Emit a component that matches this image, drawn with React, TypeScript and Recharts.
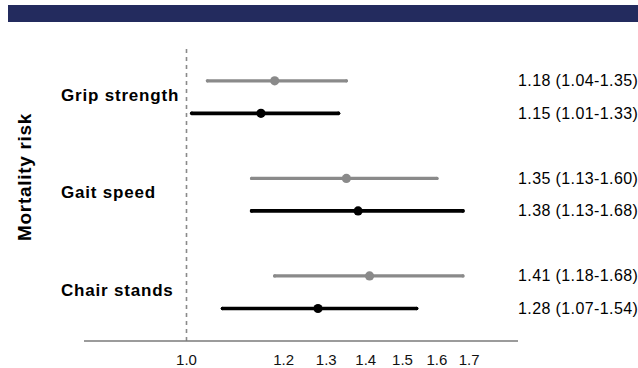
import { ScatterChart, Scatter, XAxis, YAxis, ErrorBar, ReferenceLine, Label } from "recharts";

// Hazard ratios (95% CI) per physical-performance measure
const measures = ["Grip strength", "Gait speed", "Chair stands"];
const grayHR = [1.18, 1.35, 1.41];
const grayLow = [1.04, 1.13, 1.18];
const grayHigh = [1.35, 1.6, 1.68];
const blackHR = [1.15, 1.38, 1.28];
const blackLow = [1.01, 1.13, 1.07];
const blackHigh = [1.33, 1.68, 1.54];
const xTicks = [1.0, 1.2, 1.3, 1.4, 1.5, 1.6, 1.7];

const GRAY = "#8a8a8a";
const BLACK = "#000000";
const NAVY = "#232b5e";
const FONT = "'Liberation Sans', Arial, Helvetica, sans-serif";

// two rows per measure (gray above, black below), one empty row between groups
const buildRows = (hr: number[], low: number[], high: number[], offset: number) =>
  hr.map((v, i) => ({
    x: v,
    y: i * 3 + offset,
    err: [v - low[i], high[i] - v],
    label: `${v.toFixed(2)} (${low[i].toFixed(2)}-${high[i].toFixed(2)})`,
  }));

const grayRows = buildRows(grayHR, grayLow, grayHigh, 0);
const blackRows = buildRows(blackHR, blackLow, blackHigh, 1);
const allRows = [...grayRows, ...blackRows];
const rowTicks = allRows.map((r) => r.y).sort((a, b) => a - b);
const groupTicks = measures.map((_, i) => i * 3 + 0.5);

const dot = (color: string) => (p: any) => <circle cx={p.cx} cy={p.cy} r={4.6} fill={color} />;

const CategoryTick = ({ x, y, payload }: any) => (
  <text x={x - 23} y={y - 2} textAnchor="start" dominantBaseline="central"
    fontFamily={FONT} fontSize={17} fontWeight="bold" letterSpacing={0.8} fill="#000">
    {measures[Math.floor(payload.value / 3)]}
  </text>
);

const EstimateTick = ({ x, y, payload }: any) => {
  const row = allRows.find((r) => r.y === payload.value);
  return (
    <text x={x} y={y} textAnchor="start" dominantBaseline="central"
      fontFamily={FONT} fontSize={16} letterSpacing={0.4} fill="#000">
      {row ? row.label : ""}
    </text>
  );
};

const ValueTick = ({ x, y, payload }: any) => (
  <text x={x} y={y} textAnchor="middle" dominantBaseline="central"
    fontFamily={FONT} fontSize={15} fill="#111">
    {payload.value.toFixed(1)}
  </text>
);

const MortalityLabel = ({ viewBox }: any) => {
  const cx = viewBox.x;
  const cy = viewBox.y + viewBox.height / 2 - 17;
  return (
    <text x={cx} y={cy} transform={`rotate(-90, ${cx}, ${cy})`} textAnchor="middle" dominantBaseline="central"
      fontFamily={FONT} fontSize={19} fontWeight="bold" letterSpacing={0.7} fill="#000">
      Mortality risk
    </text>
  );
};

export default function App() {
  return (
    <div style={{ position: "fixed", left: 0, top: 0, width: 638, height: 368, overflow: "hidden", background: "#fff", fontFamily: FONT }}>
      <div style={{ position: "absolute", left: 8, top: 5, width: 630, height: 17, background: NAVY }} />
      <div style={{ position: "absolute", left: 0, top: 0 }}>
        <ScatterChart width={638} height={368} margin={{ top: 47, right: 0, bottom: 0, left: 24 }}>
          <XAxis
            type="number"
            dataKey="x"
            scale="log"
            domain={[0.825, 1.863]}
            allowDataOverflow
            ticks={xTicks}
            axisLine={{ stroke: "#7a7a7a", strokeWidth: 1.5 }}
            tickLine={false}
            tickSize={0}
            tickMargin={18}
            height={27}
            tick={<ValueTick />}
          />
          <YAxis
            yAxisId="left"
            type="number"
            dataKey="y"
            domain={[-1.04, 8]}
            allowDataOverflow
            reversed
            ticks={groupTicks}
            axisLine={false}
            tickLine={false}
            tickSize={0}
            tickMargin={0}
            width={60}
            tick={<CategoryTick />}
          >
            <Label content={<MortalityLabel />} />
          </YAxis>
          <YAxis
            yAxisId="right"
            orientation="right"
            type="number"
            domain={[-1.04, 8]}
            allowDataOverflow
            reversed
            ticks={rowTicks}
            axisLine={false}
            tickLine={false}
            tickSize={0}
            tickMargin={0}
            width={120}
            tick={<EstimateTick />}
          />
          <ReferenceLine yAxisId="left" x={1} stroke="#8a8a8a" strokeWidth={1.6} strokeDasharray="4 4" />
          <Scatter yAxisId="left" data={grayRows} shape={dot(GRAY)} isAnimationActive={false}>
            <ErrorBar dataKey="err" direction="x" width={0} stroke={GRAY} strokeWidth={3.2} strokeLinecap="round" isAnimationActive={false} />
          </Scatter>
          <Scatter yAxisId="left" data={blackRows} shape={dot(BLACK)} isAnimationActive={false}>
            <ErrorBar dataKey="err" direction="x" width={0} stroke={BLACK} strokeWidth={3.6} strokeLinecap="round" isAnimationActive={false} />
          </Scatter>
        </ScatterChart>
      </div>
    </div>
  );
}
